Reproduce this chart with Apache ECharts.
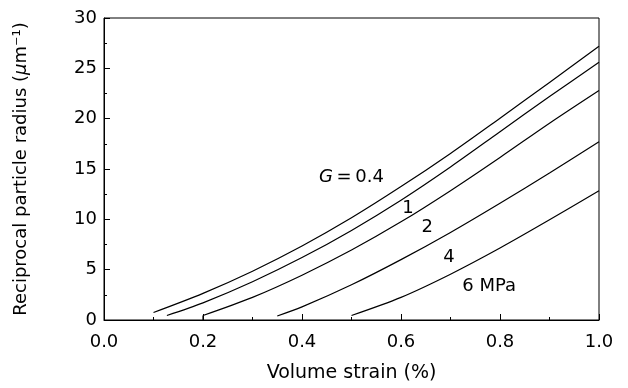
<!DOCTYPE html>
<html>
<head>
<meta charset="utf-8">
<script src="https://cdn.jsdelivr.net/npm/echarts@6/dist/echarts.min.js"></script>
<style>html,body{margin:0;padding:0;background:#fff}#c{width:628px;height:388px}</style>
</head>
<body>
<div id="c"></div>
<script>
// Curves: [volume strain (%), reciprocal particle radius (um^-1)]
var curveG04 = [[0.1,0.75],[0.2,2.65],[0.3,4.85],[0.4,7.35],[0.5,10.15],[0.6,13.25],[0.7,16.55],[0.8,20.05],[0.9,23.6],[1.0,27.2]];
var curveG1  = [[0.127,0.45],[0.2,1.7],[0.3,3.8],[0.4,6.2],[0.5,8.9],[0.6,11.9],[0.7,15.2],[0.8,18.7],[0.9,22.2],[1.0,25.6]];
var curveG2hook = [[0.2,0.0],[0.2,0.45]];
var curveG2  = [[0.2,0.45],[0.3,2.25],[0.4,4.45],[0.5,6.95],[0.6,9.75],[0.7,12.85],[0.8,16.15],[0.9,19.55],[1.0,22.8]];
var curveG4  = [[0.35,0.4],[0.4,1.3],[0.5,3.5],[0.6,6.0],[0.7,8.7],[0.8,11.6],[0.9,14.6],[1.0,17.7]];
var curveG6  = [[0.5,0.45],[0.6,2.25],[0.7,4.55],[0.8,7.15],[0.9,9.95],[1.0,12.85]];

// Curve labels
var labelText = ['{it|G}\u2009=\u20090.4', '1', '2', '4', '6 MPa'];
var labelX = [0.50, 0.614, 0.653, 0.697, 0.778];
var labelY = [14.2, 11.1, 9.2, 6.2, 3.3];

var FONT = '"DejaVu Sans", "Liberation Sans", Arial, sans-serif';
var INK = '#000';
var chart = echarts.init(document.getElementById('c'), null, {renderer: 'canvas'});

function lineSeries(d, smooth) {
  return {
    type: 'line', data: d, symbol: 'none', smooth: smooth,
    lineStyle: {color: INK, width: 1.2}, silent: true, z: 3
  };
}

var labelData = labelX.map(function (x, i) { return {value: [x, labelY[i]], name: labelText[i]}; });

chart.setOption({
  animation: false,
  backgroundColor: '#fff',
  grid: {left: 104, right: 29, top: 18, bottom: 65, show: true, borderColor: INK, borderWidth: 1},
  xAxis: {
    type: 'value', min: 0, max: 1, interval: 0.2,
    name: 'Volume strain (%)', nameLocation: 'middle', nameGap: 44,
    nameTextStyle: {fontFamily: FONT, fontSize: 19, color: INK},
    axisLine: {show: true, onZero: false, lineStyle: {color: INK, width: 1}},
    axisTick: {show: true, inside: true, length: 6, lineStyle: {color: INK}},
    minorTick: {show: true, splitNumber: 2, length: 3, lineStyle: {color: INK}},
    splitLine: {show: false},
    axisLabel: {
      fontFamily: FONT, fontSize: 18, color: INK, margin: 13,
      formatter: function (v) { return v.toFixed(1); }
    }
  },
  yAxis: {
    type: 'value', min: 0, max: 30, interval: 5,
    name: 'Reciprocal particle radius ({it|μ}m⁻¹)', nameLocation: 'middle', nameGap: 74,
    nameTextStyle: {
      fontFamily: FONT, fontSize: 18, color: INK,
      rich: {it: {fontFamily: FONT, fontSize: 18, fontStyle: 'italic', color: INK}}
    },
    axisLine: {show: true, lineStyle: {color: INK, width: 1}},
    axisTick: {show: true, inside: true, length: 6, lineStyle: {color: INK}},
    minorTick: {show: true, splitNumber: 2, length: 3, lineStyle: {color: INK}},
    splitLine: {show: false},
    axisLabel: {fontFamily: FONT, fontSize: 18, color: INK, margin: 7}
  },
  series: [
    lineSeries(curveG04, 0.3),
    lineSeries(curveG1, 0.3),
    lineSeries(curveG2hook, false),
    lineSeries(curveG2, 0.3),
    lineSeries(curveG4, 0.3),
    lineSeries(curveG6, 0.3),
    {
      type: 'scatter', data: labelData, symbolSize: 0, silent: true, z: 5,
      itemStyle: {opacity: 1, color: INK},
      label: {
        show: true, position: 'inside',
        formatter: function (p) { return p.name; },
        fontFamily: FONT, fontSize: 18, color: INK, textBorderWidth: 0,
        rich: {it: {fontFamily: FONT, fontSize: 18, fontStyle: 'italic', color: INK}}
      }
    }
  ]
});
</script>
</body>
</html>
